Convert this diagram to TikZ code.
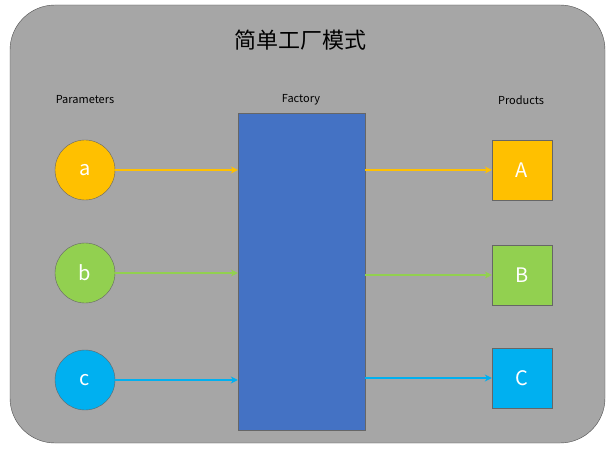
\documentclass[tikz,border=0pt]{standalone}
\usepackage{fontspec}
\setmainfont{Noto Sans CJK SC}
\usetikzlibrary{arrows.meta,positioning}
\definecolor{bggray}{HTML}{A6A6A6}
\definecolor{cyel}{HTML}{FFC000}
\definecolor{cgrn}{HTML}{92D050}
\definecolor{cblu}{HTML}{00B0F0}
\definecolor{cfac}{HTML}{4472C4}
\tikzset{
  param/.style={circle,draw=black!60,minimum size=60pt,inner sep=0pt,text=white,font=\fontsize{20}{22}\selectfont},
  prod/.style={draw=black!60,minimum size=60pt,inner sep=0pt,text=white,font=\fontsize{20}{22}\selectfont},
  head/.style={font=\fontsize{11}{13}\selectfont},
  link/.style={-{Stealth[length=7pt,width=7pt]},line width=1.6pt}
}
\begin{document}
\begin{tikzpicture}[x=1pt,y=-1pt]
\useasboundingbox (0,0) rectangle (613,449);
\draw[fill=bggray,draw=black!70,rounded corners=45pt] (10,5) rectangle (605,443);
\node (title) at (300,40) {\fontsize{22}{26}\selectfont 简单工厂模式};
\node[head] (hpar) at (85,100) {Parameters};
\node[head] (hfac) at (301,100) {Factory};
\node[head] (hprod) at (521,100) {Products};
% factory block
\node[draw=black!60,fill=cfac,minimum width=127pt,minimum height=317pt,inner sep=0pt] (fac) at (301.5,271.5) {};
% parameters
\node[param,fill=cyel] (a) at (85,170) {a};
\node[param,fill=cgrn] (b) at (85,273) {b};
\node[param,fill=cblu] (c) at (85,380) {c};
% products
\node[prod,fill=cyel] (pA) at (522,170) {A};
\node[prod,fill=cgrn] (pB) at (522,275) {B};
\node[prod,fill=cblu] (pC) at (522,378) {C};
% connectors
\draw[link,cyel] (a) -- (a -| fac.west);
\draw[link,cgrn] (b) -- (b -| fac.west);
\draw[link,cblu] (c) -- (c -| fac.west);
\draw[link,cyel] (pA -| fac.east) -- (pA);
\draw[link,cgrn] (pB -| fac.east) -- (pB);
\draw[link,cblu] (pC -| fac.east) -- (pC);
\end{tikzpicture}
\end{document}
